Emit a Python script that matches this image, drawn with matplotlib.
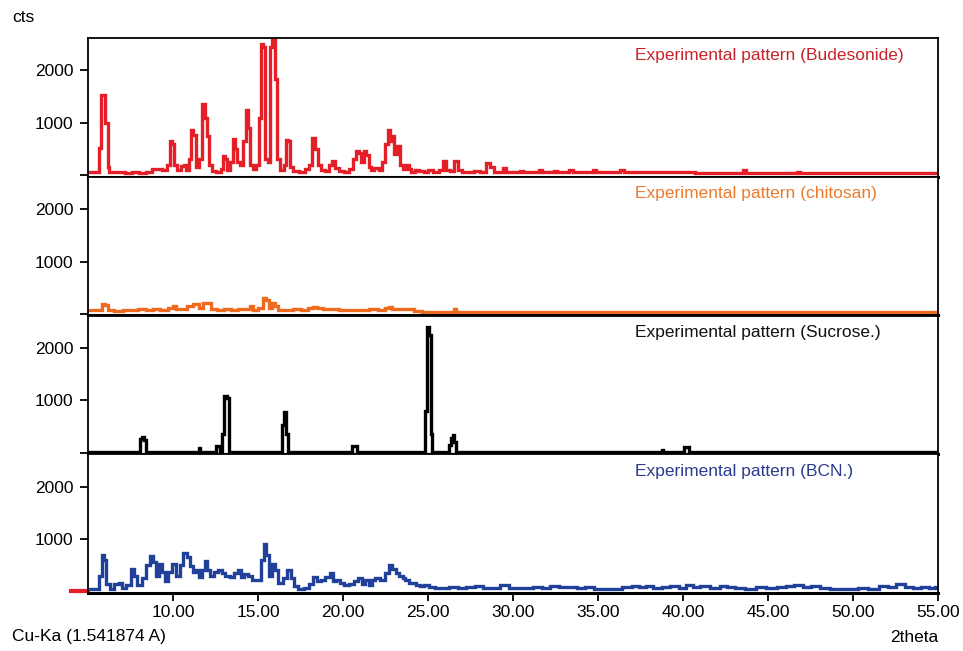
import matplotlib
matplotlib.use("Agg")
import matplotlib.pyplot as plt
import numpy as np

plt.rcParams['font.family'] = ['Liberation Sans', 'DejaVu Sans']

# (2theta, cts) pairs
budesonide = [
    (5.0, 60), (5.3, 55), (5.55, 70), (5.7, 520), (5.85, 1540), (5.95, 1540), (6.1, 1000),
    (6.2, 150), (6.3, 70), (6.6, 55), (7.0, 60), (7.4, 50), (7.8, 65), (8.2, 50), (8.6, 60),
    (8.9, 110), (9.2, 115), (9.5, 90), (9.75, 200), (9.9, 650), (10.0, 600), (10.15, 200),
    (10.35, 90), (10.55, 170), (10.7, 190), (10.85, 90), (11.0, 300), (11.1, 860), (11.25, 770),
    (11.4, 150), (11.65, 300), (11.8, 1350), (11.95, 1100), (12.05, 750), (12.2, 200),
    (12.4, 80), (12.7, 70), (12.9, 120), (13.0, 370), (13.1, 300), (13.25, 100), (13.45, 250),
    (13.6, 690), (13.7, 500), (13.85, 250), (14.0, 200), (14.2, 650), (14.35, 1250),
    (14.45, 900), (14.6, 200), (14.8, 120), (15.0, 200), (15.1, 1100), (15.25, 2500),
    (15.35, 2450), (15.5, 300), (15.65, 250), (15.8, 2450), (15.9, 2670), (16.05, 1830),
    (16.2, 300), (16.4, 90), (16.6, 200), (16.7, 670), (16.85, 650), (16.95, 150), (17.2, 80),
    (17.6, 70), (17.9, 110), (18.1, 200), (18.3, 710), (18.45, 500), (18.6, 200), (18.8, 100),
    (19.1, 80), (19.3, 200), (19.45, 270), (19.6, 130), (19.9, 80), (20.2, 70), (20.5, 120),
    (20.7, 300), (20.85, 460), (21.0, 420), (21.15, 250), (21.3, 460), (21.45, 380),
    (21.6, 150), (21.75, 100), (21.9, 140), (22.05, 140), (22.2, 90), (22.4, 250),
    (22.55, 600), (22.7, 860), (22.85, 650), (22.95, 750), (23.1, 400), (23.25, 560),
    (23.4, 200), (23.6, 120), (23.8, 200), (23.95, 120), (24.1, 70), (24.35, 100), (24.6, 80),
    (24.9, 70), (25.1, 90), (25.5, 60), (25.8, 100), (26.0, 270), (26.15, 100), (26.4, 80),
    (26.7, 270), (26.85, 100), (27.1, 70), (27.5, 60), (27.9, 80), (28.2, 70), (28.6, 230),
    (28.75, 150), (29.0, 70), (29.3, 60), (29.5, 135), (29.7, 60), (30.3, 60), (30.5, 85),
    (30.7, 60), (31.4, 60), (31.6, 90), (31.8, 60), (32.3, 60), (32.5, 80), (32.7, 60),
    (33.2, 60), (33.4, 90), (33.6, 60), (34.6, 60), (34.8, 100), (35.0, 60), (36.2, 60),
    (36.4, 90), (36.6, 60), (38.3, 60), (38.5, 70), (38.7, 55), (40.4, 55), (40.6, 65),
    (40.8, 50), (43.4, 50), (43.6, 90), (43.8, 50), (46.6, 50), (46.8, 60), (47.0, 45),
    (55.0, 45),
]

chitosan = [
    (5.0, 70), (5.7, 70), (5.95, 190), (6.1, 180), (6.3, 70), (6.8, 60), (7.3, 80), (7.7, 70),
    (8.2, 90), (8.6, 70), (9.0, 100), (9.5, 80), (9.9, 120), (10.1, 150), (10.3, 90),
    (10.7, 100), (11.0, 160), (11.4, 190), (11.6, 120), (11.9, 210), (12.1, 200), (12.4, 100),
    (12.8, 80), (13.2, 90), (13.6, 70), (14.0, 90), (14.4, 100), (14.6, 150), (14.8, 80),
    (15.2, 120), (15.4, 300), (15.55, 260), (15.75, 120), (15.95, 210), (16.1, 150),
    (16.3, 80), (16.8, 70), (17.3, 90), (17.8, 80), (18.1, 110), (18.35, 130), (18.6, 110),
    (19.0, 100), (19.5, 90), (20.0, 70), (20.6, 80), (21.2, 70), (21.8, 90), (22.3, 80),
    (22.6, 120), (22.8, 140), (23.0, 100), (23.5, 90), (24.0, 90), (24.3, 50), (25.0, 45),
    (26.45, 45), (26.6, 90), (26.75, 45), (30.0, 45), (55.0, 45),
]

sucrose = [
    (5.0, 20), (8.05, 20), (8.1, 270), (8.2, 290), (8.35, 240), (8.45, 20), (11.45, 20),
    (11.55, 80), (11.65, 20), (12.45, 20), (12.55, 120), (12.7, 120), (12.85, 20),
    (12.95, 350), (13.1, 1080), (13.25, 1050), (13.35, 20), (16.35, 20), (16.45, 530),
    (16.6, 770), (16.7, 350), (16.8, 20), (20.5, 20), (20.6, 120), (20.8, 120), (20.9, 20),
    (24.8, 20), (24.9, 800), (25.0, 2400), (25.1, 2250), (25.2, 350), (25.3, 20),
    (26.2, 20), (26.3, 150), (26.4, 280), (26.5, 330), (26.6, 200), (26.7, 20), (38.7, 20),
    (38.8, 50), (38.9, 20), (40.0, 20), (40.1, 110), (40.3, 110), (40.4, 20), (55.0, 20),
]

bcn = [
    (5.0, 40), (5.5, 40), (5.75, 300), (5.9, 690), (6.0, 600), (6.15, 150), (6.4, 40),
    (6.7, 140), (6.9, 170), (7.1, 60), (7.4, 120), (7.65, 420), (7.8, 300), (8.0, 120),
    (8.3, 250), (8.5, 500), (8.75, 670), (8.95, 560), (9.1, 300), (9.25, 520), (9.4, 380),
    (9.6, 200), (9.8, 380), (10.1, 520), (10.3, 300), (10.5, 500), (10.7, 730), (10.9, 650),
    (11.1, 480), (11.3, 380), (11.45, 400), (11.6, 280), (11.8, 400), (11.95, 590),
    (12.1, 400), (12.3, 300), (12.5, 380), (12.8, 400), (12.95, 350), (13.2, 300),
    (13.5, 270), (13.7, 350), (13.9, 400), (14.1, 280), (14.3, 330), (14.5, 300),
    (14.8, 220), (15.05, 210), (15.25, 600), (15.4, 910), (15.55, 700), (15.7, 300),
    (15.95, 520), (16.1, 400), (16.3, 170), (16.6, 250), (16.85, 400), (17.0, 250),
    (17.2, 100), (17.5, 40), (17.9, 60), (18.1, 150), (18.35, 270), (18.6, 200), (18.8, 220),
    (19.1, 270), (19.35, 350), (19.5, 200), (19.7, 220), (19.9, 170), (20.2, 130),
    (20.5, 140), (20.8, 200), (21.0, 260), (21.2, 150), (21.4, 210), (21.6, 120),
    (21.8, 220), (22.0, 260), (22.3, 220), (22.6, 350), (22.8, 500), (23.0, 420),
    (23.2, 360), (23.4, 300), (23.6, 260), (23.75, 210), (24.0, 160), (24.2, 170),
    (24.4, 120), (24.6, 110), (24.9, 130), (25.2, 90), (25.6, 60), (26.0, 70), (26.5, 90),
    (27.0, 60), (27.5, 80), (28.0, 100), (28.5, 60), (29.0, 60), (29.5, 120), (30.0, 60),
    (30.5, 70), (31.0, 60), (31.4, 90), (32.0, 60), (32.4, 100), (33.0, 80), (33.5, 90),
    (34.0, 60), (34.5, 90), (35.0, 50), (36.0, 50), (36.8, 80), (37.2, 100), (37.6, 90),
    (38.0, 110), (38.5, 70), (39.0, 80), (39.5, 100), (40.0, 70), (40.4, 120), (40.8, 90),
    (41.2, 100), (42.0, 60), (42.4, 110), (42.8, 80), (43.3, 60), (44.0, 50), (44.6, 80),
    (45.2, 60), (45.8, 90), (46.3, 100), (46.8, 120), (47.3, 90), (47.8, 100), (48.3, 70),
    (49.0, 50), (50.0, 50), (50.6, 60), (51.2, 50), (51.8, 100), (52.3, 80), (52.8, 140),
    (53.3, 80), (53.8, 60), (54.2, 90), (54.7, 70), (55.0, 90),
]

patterns = [budesonide, chitosan, sucrose, bcn]
labels = ["Experimental pattern (Budesonide)", "Experimental pattern (chitosan)",
          "Experimental pattern (Sucrose.)", "Experimental pattern (BCN.)"]
line_colors = ["#e51f27", "#ee6a1f", "#000000", "#21409a"]
text_colors = ["#c8232b", "#ea7a2c", "#111111", "#2b3b8f"]
x_ticks = [10, 15, 20, 25, 30, 35, 40, 45, 50, 55]

W, H = 963, 651
FS = 12.5
fig = plt.figure(figsize=(W / 100, H / 100), dpi=100)

left, right, top, bottom = 88, 938, 38, 593
ph = (bottom - top) / 4

axes = []
for i, (data, lab, lc, tc) in enumerate(zip(patterns, labels, line_colors, text_colors)):
    y0 = top + i * ph
    ax = fig.add_axes([left / W, 1 - (y0 + ph) / H, (right - left) / W, ph / H])
    xy = np.array(data)
    ax.plot(xy[:, 0], xy[:, 1], color=lc, lw=2.4, drawstyle='steps-mid', solid_joinstyle='miter')
    ax.set_xlim(5, 55)
    ax.set_ylim(-30, 2620)
    ax.set_yticks([0, 1000, 2000])
    ax.set_yticklabels(["", "1000", "2000"])
    ax.tick_params(axis='y', direction='out', length=5.5, width=1.3, labelsize=FS, pad=5)
    ax.set_xticks(x_ticks)
    if i < 3:
        ax.tick_params(axis='x', length=0, labelbottom=False)
    else:
        ax.set_xticklabels([f"{t:.2f}" for t in x_ticks])
        ax.tick_params(axis='x', direction='out', length=5.5, width=1.3, labelsize=FS, pad=3)
    for s in ax.spines.values():
        s.set_linewidth(1.3)
    ax.spines['bottom'].set_linewidth(2.2)
    ax.text(0.6435, 0.877, lab, transform=ax.transAxes, color=tc, fontsize=FS,
            ha='left', va='center')
    axes.append(ax)

# small red marker left of the last panel's baseline
axes[-1].plot([4.0, 5.0], [0, 0], color="#e51f27", lw=3, clip_on=False)

fig.text(12 / W, 1 - 18 / H, "cts", fontsize=FS, ha='left', va='center')
fig.text(12 / W, 1 - 637 / H, "Cu-Ka (1.541874 A)", fontsize=FS, ha='left', va='center')
fig.text(938 / W, 1 - 637 / H, "2theta", fontsize=FS, ha='right', va='center')

fig.savefig("out.png", dpi=100)
